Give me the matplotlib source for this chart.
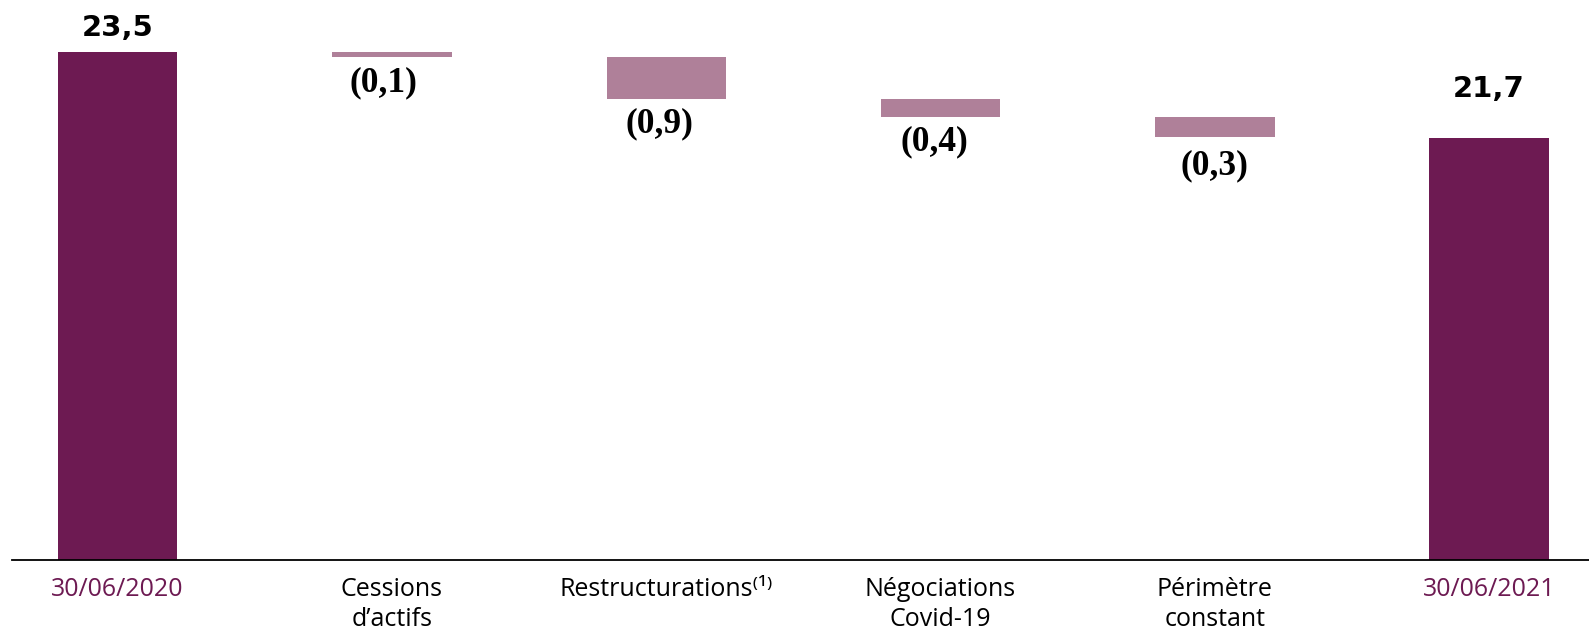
import numpy as np
import matplotlib.pyplot as plt

DARK = '#6D1A52'
LIGHT = '#AF8099'

categories = ['30/06/2020', 'Cessions\nd\u2019actifs', 'Restructurations\u207d\u00b9\u207e',
              'Négociations\nCovid-19', 'Périmètre\nconstant', '30/06/2021']
start_value = 23.5
deltas = [-0.1, -0.88, -0.38, -0.4]  # bar heights as drawn
end_value = 21.7
start_label = '23,5'
delta_labels = ['(0,1)', '(0,9)', '(0,4)', '(0,3)']
end_label = '21,7'

BASE = 12.9  # axis is truncated, bars start here

fig = plt.figure(figsize=(15.89, 6.33), dpi=100)
ax = fig.add_axes([12 / 1589, 73 / 633, 1 - 12 / 1589, 1 - 73 / 633])

x = np.arange(len(categories))
w = 0.435
sans = ['Open Sans', 'DejaVu Sans']

# totals
ax.bar(x[0], start_value - BASE, bottom=BASE, width=w, color=DARK)
ax.bar(x[-1], end_value - BASE, bottom=BASE, width=w, color=DARK)

# floating deltas, labels sit under each bar (offsets in points)
label_dx = [-6, -5, -4.7, 0]
label_dy = [25, 24, 24, 27]
level = start_value
for i, d in enumerate(deltas):
    top = level
    level = level + d
    ax.bar(x[i + 1], top - level, bottom=level, width=w, color=LIGHT)
    ax.annotate(delta_labels[i], (x[i + 1], level), xytext=(label_dx[i], -label_dy[i]),
                textcoords='offset points', ha='center', va='baseline',
                fontsize=25.5, fontweight='bold', family=['Liberation Serif'])

ax.annotate(start_label, (x[0], start_value), xytext=(0, 12),
            textcoords='offset points', ha='center', va='baseline',
            fontsize=21, fontweight='bold', family=['DejaVu Sans'])
ax.annotate(end_label, (x[-1], end_value), xytext=(0, 30),
            textcoords='offset points', ha='center', va='baseline',
            fontsize=21, fontweight='bold', family=['DejaVu Sans'])

ax.set_xlim(-0.385, 5.364)
ax.set_ylim(BASE, 24.59)
ax.set_xticks(x)
ax.set_xticklabels(categories, fontsize=18, family=sans, linespacing=1.3, va='top')
for i in (0, len(categories) - 1):
    ax.get_xticklabels()[i].set_color(DARK)
ax.tick_params(axis='x', length=0, pad=12)
ax.set_yticks([])
for s in ['top', 'right', 'left']:
    ax.spines[s].set_visible(False)
ax.spines['bottom'].set_linewidth(1.3)

fig.savefig('out.png', dpi=100)
